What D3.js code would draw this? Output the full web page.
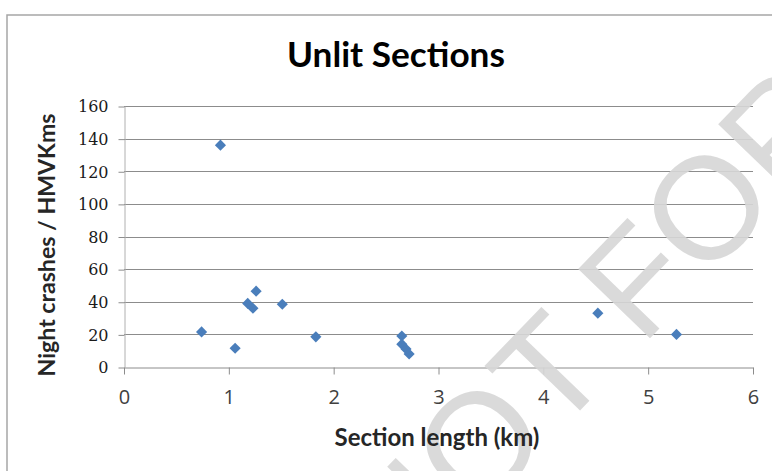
<!DOCTYPE html>
<html><head><meta charset="utf-8">
<script src="https://cdn.jsdelivr.net/npm/d3@7"></script>
<style>body{margin:0;background:#fff}svg{display:block}</style>
</head><body>
<svg id="c" width="772" height="471"></svg>
<script>
const sectionLengthKm = [0.92, 0.74, 1.06, 1.18, 1.23, 1.26, 1.51, 1.83, 2.65, 2.65, 2.69, 2.72, 4.52, 5.27];
const nightCrashesPerHMVKm = [136, 21.5, 11.5, 39, 36, 46.5, 38.5, 18.5, 19, 14, 11, 8, 33, 20];
const xTicks = [0, 1, 2, 3, 4, 5, 6];
const yTicks = [0, 20, 40, 60, 80, 100, 120, 140, 160];
const titleText = "Unlit Sections";
const xTitle = "Section length (km)";
const yTitle = "Night crashes / HMVKms";
const watermarkText = "NOT FOR";

const svg = d3.select("#c");
const W = 772, H = 471;
svg.append("rect").attr("x", 0).attr("y", 0).attr("width", W).attr("height", H).attr("fill", "#fff");
// outer chart border
svg.append("rect").attr("x", 7).attr("y", 15).attr("width", 800).attr("height", 500)
  .attr("fill", "none").attr("stroke", "#a6a6a6").attr("stroke-width", 1.5);

const L = 124, R = 753, T = 106, B = 367;
const x = d3.scaleLinear().domain([0, 6]).range([L, R]);
const y = d3.scaleLinear().domain([0, 160]).range([B, T]);

// gridlines
svg.append("g").selectAll("line").data(yTicks.filter(d => d > 0)).join("line")
  .attr("x1", L).attr("x2", R).attr("y1", d => Math.round(y(d)) + 0.5).attr("y2", d => Math.round(y(d)) + 0.5)
  .attr("stroke", "#8c8c8c").attr("stroke-width", 1);

// y axis
const ya = svg.append("g").attr("transform", `translate(${L + 0.5},0)`)
  .call(d3.axisLeft(y).tickValues(yTicks).tickSize(6).tickSizeOuter(0).tickPadding(10).tickFormat(d3.format("d")));
ya.select(".domain").attr("stroke", "#b0b0b0");
ya.selectAll(".tick line").attr("stroke", "#8c8c8c").attr("transform", "translate(0,0.5)");
ya.selectAll(".tick text").attr("font-family", "DejaVu Serif").attr("font-size", 16).attr("fill", "#1a1a1a").attr("dy", "0.36em");

// x axis
const xa = svg.append("g").attr("transform", `translate(0,${B + 0.5})`)
  .call(d3.axisBottom(x).tickValues(xTicks).tickSize(7).tickSizeOuter(0).tickPadding(15).tickFormat(d3.format("d")));
xa.select(".domain").attr("stroke", "#8c8c8c");
xa.selectAll(".tick line").attr("stroke", "#8c8c8c");
xa.selectAll(".tick text").attr("font-family", "Open Sans").attr("font-size", 20).attr("fill", "#404040");

function fit(sel, target) {
  const w = sel.node().getComputedTextLength();
  const fs = parseFloat(sel.attr("font-size"));
  sel.attr("font-size", fs * target / w);
}

// watermark
svg.append("text").attr("transform", "translate(403,594) rotate(-46)")
  .attr("font-family", "Liberation Sans")
  .attr("font-size", 145).attr("fill", "#d6d6d6").attr("fill-opacity", 0.9)
  .text(watermarkText);

// points
svg.append("g").selectAll("path").data(sectionLengthKm.map((v, i) => [v, nightCrashesPerHMVKm[i]])).join("path")
  .attr("d", d3.symbol(d3.symbolSquare, 62)())
  .attr("transform", d => `translate(${x(d[0])},${y(d[1])}) rotate(45)`)
  .attr("fill", "#4a7ebb");

// title
const t = svg.append("text").attr("x", 396).attr("y", 67).attr("text-anchor", "middle")
  .attr("font-family", "Lato").attr("font-weight", 700).attr("font-size", 32).attr("fill", "#000").text(titleText);
fit(t, 218);

const xt = svg.append("text").attr("x", 437).attr("y", 446).attr("text-anchor", "middle")
  .attr("font-family", "Lato").attr("font-weight", 700).attr("font-size", 18).attr("fill", "#262626").text(xTitle);
fit(xt, 205);

const yt = svg.append("text").attr("transform", "translate(55,245) rotate(-90)").attr("text-anchor", "middle")
  .attr("font-family", "Lato").attr("font-weight", 700).attr("font-size", 18).attr("fill", "#262626").text(yTitle);
fit(yt, 263);
</script>
</body></html>
